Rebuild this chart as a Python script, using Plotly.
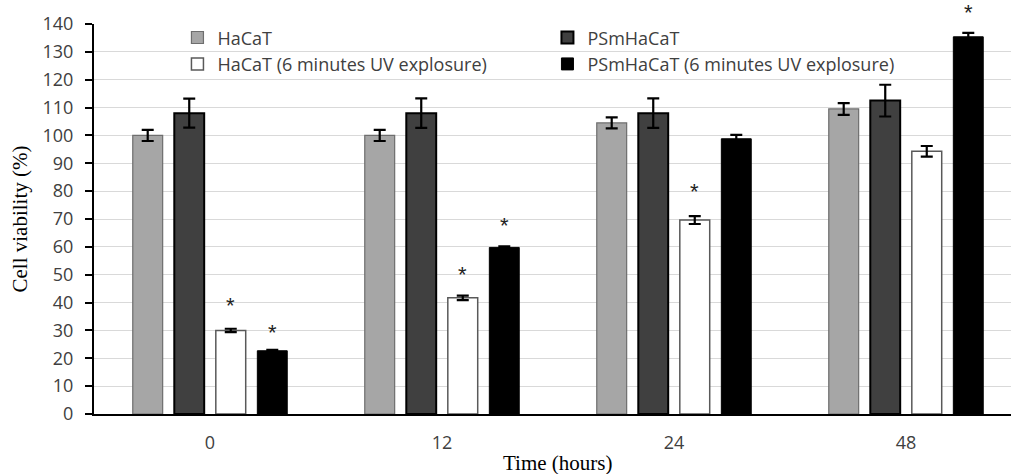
import plotly.graph_objects as go

# Time points (hours) and the four cell-line / treatment series
time_labels = ["0", "12", "24", "48"]
series_names = [
    "HaCaT",
    "PSmHaCaT",
    "HaCaT (6 minutes UV explosure)",
    "PSmHaCaT (6 minutes UV explosure)",
]
hacat = [100.0, 100.0, 104.5, 109.5]
psm_hacat = [108.0, 108.0, 108.0, 112.5]
hacat_uv = [30.0, 41.7, 69.6, 94.3]
psm_hacat_uv = [22.7, 59.8, 98.8, 135.4]

hacat_err = [2.0, 2.0, 2.0, 2.1]
psm_hacat_err = [5.2, 5.3, 5.3, 5.7]
hacat_uv_err = [0.6, 0.8, 1.4, 1.9]
psm_hacat_uv_err = [0.3, 0.4, 1.4, 1.4]

# Significance markers: (time index, series index, height of the asterisk)
star_time = [0, 0, 1, 1, 2, 3]
star_series = [2, 3, 2, 3, 2, 3]
star_level = [40.6, 31.0, 51.7, 69.6, 81.6, 146.0]

Y_MAX = 140
values = [hacat, psm_hacat, hacat_uv, psm_hacat_uv]
errors = [hacat_err, psm_hacat_err, hacat_uv_err, psm_hacat_uv_err]
fills = ["#a6a6a6", "#404040", "#ffffff", "#000000"]
edges = ["#6e6e6e", "#000000", "#595959", "#000000"]
edge_w = [1.2, 2.0, 1.5, 1.0]

BARGAP = 0.284
BARGROUPGAP = 0.28
x_pos = list(range(len(time_labels)))

fig = go.Figure()
for name, vals, errs, fc, ec, ew in zip(series_names, values, errors, fills, edges, edge_w):
    fig.add_trace(go.Bar(
        x=x_pos, y=vals, name=name,
        marker=dict(color=fc, line=dict(color=ec, width=ew)),
        error_y=dict(type="data", array=errs, visible=True,
                     color="#000000", thickness=2.2, width=6),
    ))

# Asterisks above the bars that differ significantly (paper y so that
# markers above the top of the value axis stay visible)
slot = (1 - BARGAP) / len(series_names)
for ti, si, lvl in zip(star_time, star_series, star_level):
    fig.add_annotation(
        x=x_pos[ti] + (si - (len(series_names) - 1) / 2) * slot,
        y=lvl / Y_MAX, xref="x", yref="paper", text="*", showarrow=False,
        font=dict(family="Liberation Sans", size=22, color="#222222"),
        yanchor="middle", yshift=-5,
    )

# x-axis title centred on the full category span
fig.add_annotation(
    x=0.5 + 0.5 * (1 - 1011 / 1022), xref="paper", y=-49 / 390, yref="paper",
    text="Time (hours)", showarrow=False, yanchor="middle",
    font=dict(family="Liberation Serif", size=21, color="#000000"),
)

fig.update_layout(
    width=1011, height=474,
    margin=dict(l=94, r=0, t=24, b=60),
    paper_bgcolor="#ffffff", plot_bgcolor="#ffffff",
    barmode="group", bargap=BARGAP, bargroupgap=BARGROUPGAP,
    font=dict(family="Open Sans", size=18, color="#404040"),
    legend=dict(
        orientation="h", x=0.091, y=1.012, xanchor="left", yanchor="top",
        bgcolor="rgba(0,0,0,0)", entrywidth=325, entrywidthmode="pixels",
        font=dict(family="Open Sans", size=18, color="#404040"),
        itemwidth=30, tracegroupgap=0,
    ),
    xaxis=dict(
        tickmode="array", tickvals=x_pos, ticktext=time_labels,
        range=[-0.5, -0.5 + 917 / 232],
        showline=True, linecolor="#000000", linewidth=2,
        ticks="", showgrid=False, zeroline=False,
        ticklabelstandoff=11,
        tickfont=dict(family="Open Sans", size=18, color="#404040"),
    ),
    yaxis=dict(
        range=[0, Y_MAX], tickmode="linear", tick0=0, dtick=10,
        showline=True, linecolor="#000000", linewidth=2,
        ticks="outside", ticklen=7, tickwidth=2, tickcolor="#000000",
        gridcolor="#d9d9d9", gridwidth=1.3, zeroline=False,
        ticklabelstandoff=8,
        tickfont=dict(family="Open Sans", size=18, color="#404040"),
        title=dict(text="Cell viability (%)", standoff=9,
                   font=dict(family="Liberation Serif", size=21, color="#000000")),
    ),
)

fig.write_html("out.html")
